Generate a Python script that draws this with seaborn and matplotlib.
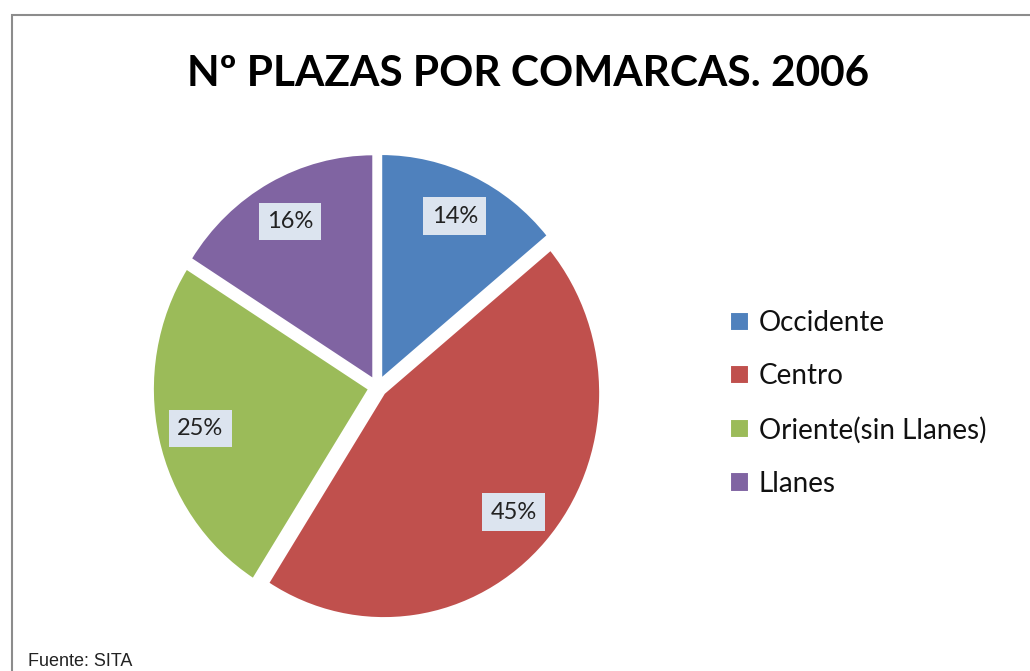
import matplotlib
matplotlib.use("Agg")
import matplotlib.pyplot as plt
import seaborn as sns
from matplotlib.patches import Rectangle

# data
comarcas = ["Occidente", "Centro", "Oriente(sin Llanes)", "Llanes"]
plazas_pct = [14, 45, 25, 16]
colores = ["#4F81BD", "#C0504D", "#9BBB59", "#8064A2"]

sns.set_theme(style="white")
plt.rcParams['font.family'] = ['Lato', 'DejaVu Sans']
pal = sns.color_palette(colores)

fig = plt.figure(figsize=(10.30, 6.71), dpi=100)
fig.patch.set_facecolor("white")

# chart border
fig.patches.append(Rectangle((12/1030, -0.05), 1.05, 1 - 15/671 + 0.05,
                             transform=fig.transFigure, fill=False,
                             edgecolor="#8c8c8c", linewidth=1.5))

ax = fig.add_axes([0.123, 0.034, 0.487, 0.778])
wedges, texts, autotexts = ax.pie(
    plazas_pct, colors=pal, startangle=90, counterclock=False,
    explode=[0.04] * len(plazas_pct), autopct="%d%%", pctdistance=0.8,
    wedgeprops=dict(edgecolor="white", linewidth=1.5),
    textprops=dict(fontsize=17, color="#222222"))
for t in autotexts:
    t.set_bbox(dict(facecolor="#DCE4EF", edgecolor="none", pad=6))
ax.set_xlim(-1.16, 1.16)
ax.set_ylim(-1.16, 1.16)
ax.set_aspect("auto")
ax.axis("off")

fig.text(0.513, 0.889, "Nº PLAZAS POR COMARCAS. 2006", ha="center", va="center",
         fontsize=30.5, fontweight="bold", color="black")

leg = fig.legend(wedges, comarcas, loc="center left", bbox_to_anchor=(0.684, 0.399),
                 frameon=False, fontsize=20, handlelength=0.7, handleheight=0.7,
                 handletextpad=0.35, labelspacing=0.98)
for t in leg.get_texts():
    t.set_color("#111111")

fig.text(0.027, 0.002, "Fuente: SITA", fontsize=13, family="Liberation Sans",
         ha="left", va="bottom", color="#222222")

fig.savefig("out.png", dpi=100)
